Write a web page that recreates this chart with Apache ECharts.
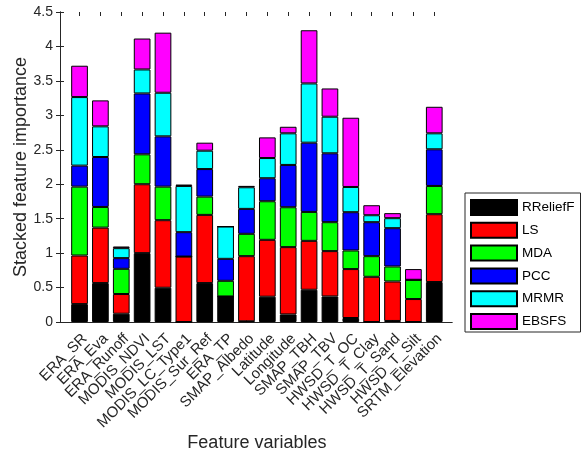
<!DOCTYPE html>
<html>
<head>
<meta charset="utf-8">
<script src="https://cdn.jsdelivr.net/npm/echarts@6/dist/echarts.min.js"></script>
<style>
html,body{margin:0;padding:0;background:#fff;}
#chart{width:581px;height:461px;}
</style>
</head>
<body>
<div id="chart"></div>
<script>
const categories = ['ERA_SR','ERA_Eva','ERA_Runoff','MODIS_NDVI','MODIS_LST','MODIS_LC_Type1','MODIS_Sur_Ref','ERA_TP','SMAP_Albedo','Latitude','Longitude','SMAP_TBH','SMAP_TBV','HWSD_T_OC','HWSD_T_Clay','HWSD_T_Sand','HWSD_T_Silt','SRTM_Elevation'];
const rrelieff = [0.26, 0.565, 0.12, 1.0, 0.497, 0, 0.565, 0.371, 0.01, 0.367, 0.11, 0.468, 0.371, 0.058, 0, 0.015, 0, 0.58];
const ls       = [0.705, 0.805, 0.286, 1.0, 0.981, 0.95, 0.99, 0, 0.946, 0.826, 0.977, 0.71, 0.658, 0.71, 0.656, 0.573, 0.333, 0.985];
const mda      = [1.0, 0.30, 0.366, 0.434, 0.487, 0, 0.265, 0.227, 0.324, 0.56, 0.579, 0.42, 0.42, 0.27, 0.30, 0.218, 0.28, 0.41];
const pcc      = [0.305, 0.725, 0.155, 0.884, 0.73, 0.354, 0.40, 0.319, 0.362, 0.334, 0.614, 1.005, 1.0, 0.556, 0.493, 0.556, 0, 0.532];
const mrmr     = [0.995, 0.445, 0.145, 0.348, 0.633, 0.671, 0.267, 0.469, 0.314, 0.293, 0.459, 0.86, 0.531, 0.366, 0.101, 0.145, 0, 0.232];
const ebsfs    = [0.455, 0.377, 0.024, 0.449, 0.872, 0.02, 0.116, 0, 0.02, 0.30, 0.095, 0.772, 0.41, 1.005, 0.145, 0.073, 0.155, 0.385];
const seriesNames = ['RReliefF','LS','MDA','PCC','MRMR','EBSFS'];
const seriesColors = ['#000000','#ff0000','#00ff00','#0000ff','#00ffff','#ff00ff'];
const seriesData = [rrelieff, ls, mda, pcc, mrmr, ebsfs];
const yTicks = {min: 0, max: 4.5, interval: 0.5};

const FONT = "'Liberation Sans', Arial, Helvetica, sans-serif";
const AX = '#262626';

const chart = echarts.init(document.getElementById('chart'), null, {renderer: 'canvas'});
const option = {
  animation: false,
  backgroundColor: '#fff',
  textStyle: {fontFamily: FONT},
  grid: [
    {left: 60, right: 129, top: 12, bottom: 139, containLabel: false},
    {left: 69.1, right: 136.3, top: 12, bottom: 139, containLabel: false}
  ],
  legend: {
    orient: 'vertical',
    left: 465, top: 193,
    padding: [6, 6, 2, 5],
    icon: 'rect',
    itemWidth: 46, itemHeight: 15, itemGap: 5.8,
    borderColor: AX, borderWidth: 1, backgroundColor: '#fff',
    textStyle: {fontFamily: FONT, fontSize: 13.5, color: '#000'},
    data: seriesNames
  },
  xAxis: [
    {gridIndex: 0, type: 'value', min: 0, max: 1, position: 'bottom',
     axisLine: {show: true, lineStyle: {color: AX, width: 1}}, axisTick: {show: false}, axisLabel: {show: false}, splitLine: {show: false}},
    {gridIndex: 0, type: 'value', min: 0, max: 1, position: 'top',
     axisLine: {show: true, lineStyle: {color: AX, width: 1}}, axisTick: {show: false}, axisLabel: {show: false}, splitLine: {show: false}},
    {gridIndex: 1, type: 'category', data: categories, position: 'bottom',
     axisLine: {show: false},
     axisTick: {show: true, inside: true, alignWithLabel: true, interval: 0, length: 4, lineStyle: {color: AX}},
     axisLabel: {rotate: 45, fontSize: 15, color: AX, fontFamily: FONT, margin: 9, interval: 0, verticalAlign: 'top'},
     name: 'Feature variables', nameLocation: 'middle', nameGap: 112, nameMoveOverlap: false,
     nameTextStyle: {fontSize: 18, color: AX, fontFamily: FONT},
     splitLine: {show: false}},
    {gridIndex: 1, type: 'category', data: categories, position: 'top',
     axisLine: {show: false},
     axisTick: {show: true, inside: true, alignWithLabel: true, interval: 0, length: 4, lineStyle: {color: AX}},
     axisLabel: {show: false, interval: 0}, splitLine: {show: false}}
  ],
  yAxis: [
    {gridIndex: 0, type: 'value', min: yTicks.min, max: yTicks.max, interval: yTicks.interval, position: 'left',
     axisLine: {show: true, lineStyle: {color: AX, width: 1}},
     axisTick: {show: true, inside: true, length: 4, lineStyle: {color: AX}},
     axisLabel: {fontSize: 14, color: AX, fontFamily: FONT, margin: 7},
     splitLine: {show: false},
     name: 'Stacked feature importance', nameLocation: 'middle', nameGap: 30, nameMoveOverlap: false,
     nameTextStyle: {fontSize: 18, color: AX, fontFamily: FONT}},
    {gridIndex: 0, type: 'value', min: yTicks.min, max: yTicks.max, interval: yTicks.interval, position: 'right',
     axisLine: {show: true, lineStyle: {color: AX, width: 1}},
     axisTick: {show: true, inside: true, length: 4, lineStyle: {color: AX}},
     axisLabel: {show: false}, splitLine: {show: false}},
    {gridIndex: 1, type: 'value', min: yTicks.min, max: yTicks.max, show: false}
  ],
  series: seriesNames.map((name, i) => ({
    name: name,
    type: 'bar',
    stack: 'total',
    xAxisIndex: 2,
    yAxisIndex: 2,
    barWidth: '80%',
    data: seriesData[i],
    itemStyle: {color: seriesColors[i], borderColor: '#000', borderWidth: 1}
  }))
};
chart.setOption(option);
</script>
</body>
</html>
